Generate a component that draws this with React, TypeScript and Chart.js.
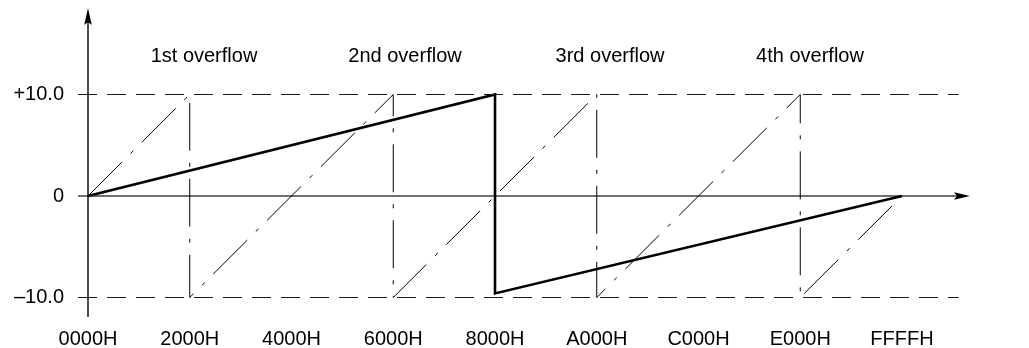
import React, { useEffect, useRef } from 'react';
import { Chart, registerables } from 'chart.js';

Chart.register(...registerables);

// ---- Data -----------------------------------------------------------------
const X_TICK_VALUES = [0x0000, 0x2000, 0x4000, 0x6000, 0x8000, 0xa000, 0xc000, 0xe000, 0xffff];
const X_TICK_LABELS = ['0000H', '2000H', '4000H', '6000H', '8000H', 'A000H', 'C000H', 'E000H', 'FFFFH'];
const Y_TICK_VALUES = [-10, 0, 10];
const Y_TICK_LABELS = ['–10.0', '0', '+10.0'];

// Solid (thick) line
const SOLID_X = [0x0000, 0x8000, 0x8000, 0xffff];
const SOLID_Y = [0, 10, -9.6, 0];

// Dash-dot sawtooth (overflowing every 4000H after the first 2000H)
const SAW_X = [0x0000, 0x2000, 0x2000, 0x6000, 0x6000, 0xa000, 0xa000, 0xe000, 0xe000, 0xffff];
const SAW_Y = [0, 10, -10, 10, -10, 10, -10, 10, -10, 0];

// Limit lines (dashed)
const LIMIT_VALUES = [10, -10];
const LIMIT_START_X = -805;
const LIMIT_END_X = 70100;

// Annotations
const OVERFLOW_LABELS = ['1st overflow', '2nd overflow', '3rd overflow', '4th overflow'];
const OVERFLOW_X = [0x247b, 0x63b2, 0xa42b, 0xe312];
const OVERFLOW_Y = [13.7, 13.7, 13.7, 13.7];

// Axis ranges
const X_MIN = -805;
const X_MAX = 71010;
const Y_MIN = -11.92;
const Y_MAX = 18.52;

const FONT_FAMILY = '"Liberation Sans", Arial, Helvetica, sans-serif';

const toPoints = (xs: number[], ys: number[]) => xs.map((x, i) => ({ x, y: ys[i] }));

const axesPlugin = {
  id: 'arrowAxes',
  beforeDatasetsDraw(chart: any) {
    const { ctx, chartArea, scales } = chart;
    const xs = scales.x;
    const ys = scales.y;
    const y0 = ys.getPixelForValue(0);
    const x0 = xs.getPixelForValue(0);
    ctx.save();
    // horizontal axis (grey)
    ctx.strokeStyle = '#707070';
    ctx.lineWidth = 2;
    ctx.beginPath();
    ctx.moveTo(chartArea.left, y0);
    ctx.lineTo(chartArea.right - 10, y0);
    ctx.stroke();
    ctx.fillStyle = '#000';
    ctx.beginPath();
    ctx.moveTo(chartArea.right, y0);
    ctx.lineTo(chartArea.right - 16, y0 - 3.8);
    ctx.lineTo(chartArea.right - 13, y0);
    ctx.lineTo(chartArea.right - 16, y0 + 3.8);
    ctx.closePath();
    ctx.fill();
    // vertical axis (black)
    ctx.strokeStyle = '#000';
    ctx.lineWidth = 1.4;
    ctx.beginPath();
    ctx.moveTo(x0, chartArea.bottom);
    ctx.lineTo(x0, chartArea.top + 10);
    ctx.stroke();
    ctx.beginPath();
    ctx.moveTo(x0, chartArea.top);
    ctx.lineTo(x0 - 3.8, chartArea.top + 17);
    ctx.lineTo(x0, chartArea.top + 14);
    ctx.lineTo(x0 + 3.8, chartArea.top + 17);
    ctx.closePath();
    ctx.fill();
    ctx.restore();
  },
  afterDatasetsDraw(chart: any) {
    const { ctx, scales } = chart;
    ctx.save();
    ctx.fillStyle = '#000';
    ctx.font = `20px ${FONT_FAMILY}`;
    ctx.textAlign = 'center';
    ctx.textBaseline = 'middle';
    OVERFLOW_LABELS.forEach((t, i) => {
      ctx.fillText(t, scales.x.getPixelForValue(OVERFLOW_X[i]), scales.y.getPixelForValue(OVERFLOW_Y[i]));
    });
    ctx.restore();
  },
};

export default function App() {
  const canvasRef = useRef<HTMLCanvasElement | null>(null);

  useEffect(() => {
    document.body.style.margin = '0';
    const canvas = canvasRef.current;
    if (!canvas) return;

    const limitSets = LIMIT_VALUES.map((v) => ({
      data: toPoints([LIMIT_START_X, LIMIT_END_X], [v, v]),
      borderColor: '#1a1a1a',
      borderWidth: 1,
      borderDash: [19, 10],
      showLine: true,
      pointRadius: 0,
      fill: false,
    }));

    const chart = new Chart(canvas, {
      type: 'scatter',
      data: {
        datasets: [
          ...limitSets,
          {
            data: toPoints(SAW_X, SAW_Y),
            borderColor: '#000',
            borderWidth: 1,
            borderDash: [48, 12, 4, 12],
            showLine: true,
            pointRadius: 0,
            fill: false,
            tension: 0,
          },
          {
            data: toPoints(SOLID_X, SOLID_Y),
            borderColor: '#000',
            borderWidth: 2.6,
            showLine: true,
            pointRadius: 0,
            fill: false,
            tension: 0,
          },
        ],
      },
      options: {
        responsive: false,
        animation: false,
        events: [],
        layout: { padding: { top: 8, right: 59, bottom: 0, left: 0 } },
        plugins: {
          legend: { display: false },
          tooltip: { enabled: false },
          title: { display: false },
        },
        scales: {
          x: {
            type: 'linear',
            min: X_MIN,
            max: X_MAX,
            grid: { display: false, drawTicks: false },
            border: { display: false },
            afterBuildTicks: (scale: any) => {
              scale.ticks = X_TICK_VALUES.map((value) => ({ value }));
            },
            afterFit: (scale: any) => {
              scale.height = 31;
              scale.paddingLeft = 0;
              scale.paddingRight = 0;
            },
            ticks: {
              autoSkip: false,
              maxRotation: 0,
              minRotation: 0,
              padding: 10,
              color: '#000',
              font: { family: FONT_FAMILY, size: 20 },
              callback: (_v: any, i: number) => X_TICK_LABELS[i],
            },
          },
          y: {
            type: 'linear',
            min: Y_MIN,
            max: Y_MAX,
            grid: { display: false, drawTicks: false },
            border: { display: false },
            afterBuildTicks: (scale: any) => {
              scale.ticks = Y_TICK_VALUES.map((value) => ({ value }));
            },
            afterFit: (scale: any) => {
              scale.width = 78;
              scale.paddingTop = 0;
              scale.paddingBottom = 0;
            },
            ticks: {
              autoSkip: false,
              padding: 14,
              color: '#000',
              font: { family: FONT_FAMILY, size: 20 },
              callback: (_v: any, i: number) => Y_TICK_LABELS[i],
            },
          },
        },
      },
      plugins: [axesPlugin],
    } as any);

    return () => chart.destroy();
  }, []);

  return (
    <div style={{ position: 'absolute', left: 0, top: 0, width: 1029, height: 348, background: '#fff' }}>
      <canvas ref={canvasRef} width={1029} height={348} />
    </div>
  );
}
